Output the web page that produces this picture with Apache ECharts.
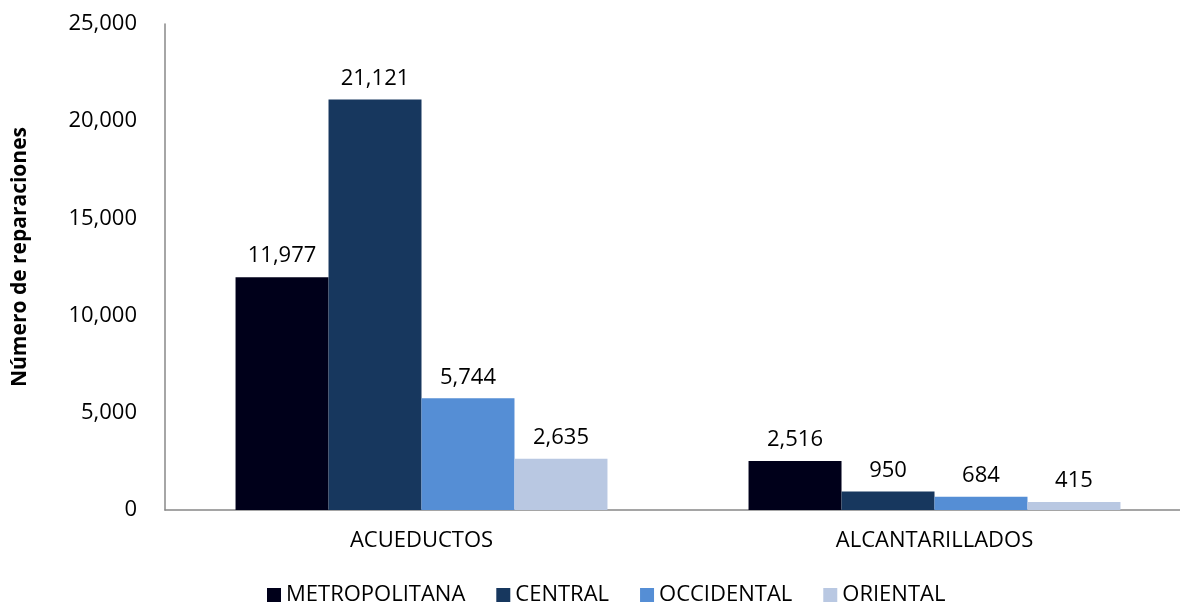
<!DOCTYPE html>
<html>
<head>
<meta charset="utf-8">
<script src="https://cdn.jsdelivr.net/npm/echarts@6/dist/echarts.min.js"></script>
<style>html,body{margin:0;padding:0;background:#fff}#c{width:1180px;height:602px}</style>
</head>
<body>
<div id="c"></div>
<script>
const categories = ['ACUEDUCTOS', 'ALCANTARILLADOS'];
const seriesNames = ['METROPOLITANA', 'CENTRAL', 'OCCIDENTAL', 'ORIENTAL'];
const metropolitana = [11977, 2516];
const central = [21121, 950];
const occidental = [5744, 684];
const oriental = [2635, 415];
const colors = ['#00001A', '#17375E', '#558ED5', '#B9C8E2'];
const yTicks = { min: 0, max: 25000, interval: 5000 };

const values = [metropolitana, central, occidental, oriental];
const font = 'Open Sans';
const fmt = v => v.toLocaleString('en-US');

const chart = echarts.init(document.getElementById('c'), null, { renderer: 'canvas' });
chart.setOption({
  animation: false,
  textStyle: { fontFamily: font },
  grid: { left: 165, right: -11, top: 24, bottom: 92, containLabel: false, outerBoundsMode: 'none' },
  legend: {
    data: seriesNames,
    top: 579,
    left: 262,
    icon: 'rect',
    itemWidth: 14,
    itemHeight: 14,
    itemGap: 31,
    textStyle: { fontFamily: font, fontSize: 22, color: '#000' }
  },
  xAxis: {
    type: 'category',
    data: categories,
    axisLine: { lineStyle: { color: '#888', width: 1.5 } },
    axisTick: { show: false },
    axisLabel: { fontFamily: font, fontSize: 22, color: '#000', margin: 20 }
  },
  yAxis: {
    type: 'value',
    min: yTicks.min, max: yTicks.max, interval: yTicks.interval,
    name: 'Número de reparaciones',
    nameLocation: 'middle',
    nameGap: 134,
    nameTextStyle: { fontFamily: font, fontSize: 21, fontWeight: 'bold', color: '#000', padding: [0, 0, 0, 20] },
    axisLine: { show: true, lineStyle: { color: '#888', width: 1.5 } },
    axisTick: { show: false },
    splitLine: { show: false },
    axisLabel: { fontFamily: font, fontSize: 22, color: '#000', margin: 28, formatter: fmt }
  },
  series: seriesNames.map((n, i) => ({
    name: n,
    type: 'bar',
    data: values[i],
    barGap: '0%',
    barCategoryGap: '27.5%',
    itemStyle: { color: colors[i] },
    label: {
      show: true, position: 'top', distance: 10,
      fontFamily: font, fontSize: 22, color: '#000',
      formatter: p => fmt(p.value)
    }
  }))
});
</script>
</body>
</html>
